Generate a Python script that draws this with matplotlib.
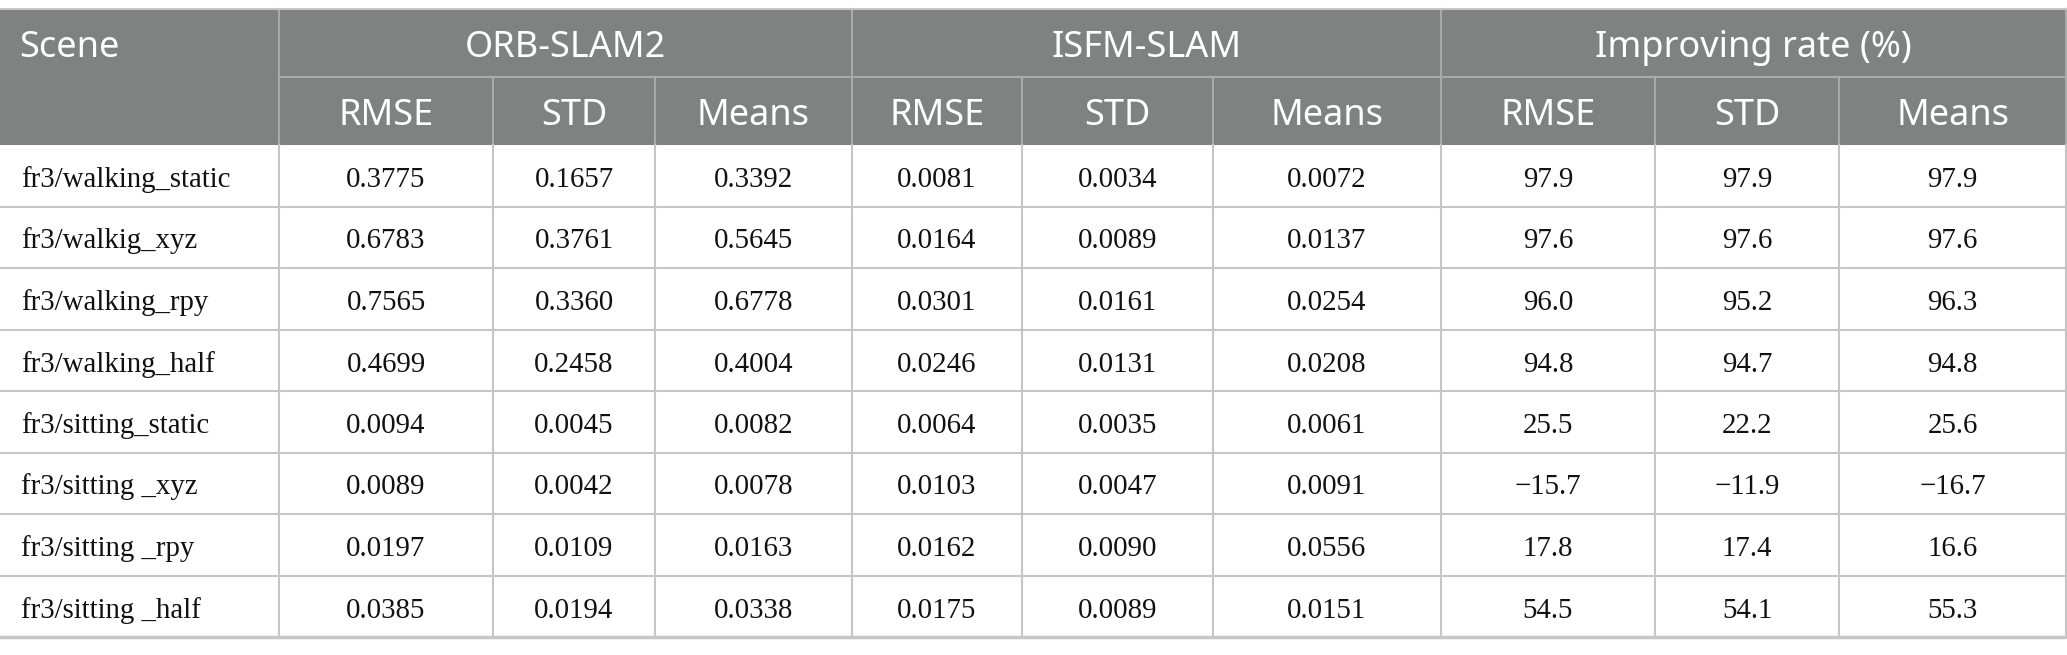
#!/usr/bin/env python3
"""Trajectory error table: ORB-SLAM2 vs ISFM-SLAM on TUM fr3 scenes."""

import matplotlib.pyplot as plt
from matplotlib.patches import Rectangle

scenes = [
    "fr3/walking_static", "fr3/walkig_xyz", "fr3/walking_rpy", "fr3/walking_half",
    "fr3/sitting_static", "fr3/sitting _xyz", "fr3/sitting _rpy", "fr3/sitting _half",
]
groups = ["ORB-SLAM2", "ISFM-SLAM", "Improving rate (%)"]
metrics = ["RMSE", "STD", "Means"]

orb_rmse = ["0.3775", "0.6783", "0.7565", "0.4699", "0.0094", "0.0089", "0.0197", "0.0385"]
orb_std = ["0.1657", "0.3761", "0.3360", "0.2458", "0.0045", "0.0042", "0.0109", "0.0194"]
orb_mean = ["0.3392", "0.5645", "0.6778", "0.4004", "0.0082", "0.0078", "0.0163", "0.0338"]
isfm_rmse = ["0.0081", "0.0164", "0.0301", "0.0246", "0.0064", "0.0103", "0.0162", "0.0175"]
isfm_std = ["0.0034", "0.0089", "0.0161", "0.0131", "0.0035", "0.0047", "0.0090", "0.0089"]
isfm_mean = ["0.0072", "0.0137", "0.0254", "0.0208", "0.0061", "0.0091", "0.0556", "0.0151"]
imp_rmse = ["97.9", "97.6", "96.0", "94.8", "25.5", "\u221215.7", "17.8", "54.5"]
imp_std = ["97.9", "97.6", "95.2", "94.7", "22.2", "\u221211.9", "17.4", "54.1"]
imp_mean = ["97.9", "97.6", "96.3", "94.8", "25.6", "\u221216.7", "16.6", "55.3"]

columns = [orb_rmse, orb_std, orb_mean, isfm_rmse, isfm_std, isfm_mean,
           imp_rmse, imp_std, imp_mean]

# layout in pixels
W, H = 2067, 655
col_edges = [0, 279, 493, 655, 852, 1022, 1213, 1441, 1655, 1839, 2066]
top, mid, head_bottom, bottom = 9, 77, 145, 637
row_h = (bottom - head_bottom) / len(scenes)

HEAD_BG = "#808181"
HEAD_LINE = "#a9aaaa"
GRID = "#c6c6c6"

fig = plt.figure(figsize=(W / 100, H / 100), dpi=100)
ax = fig.add_axes([0, 0, 1, 1])
ax.set_xlim(0, W)
ax.set_ylim(H, 0)
ax.axis("off")

head_font = dict(family=["Noto Sans", "DejaVu Sans"], fontsize=26, color="white")
body_font = dict(family=["Liberation Serif", "DejaVu Serif"], fontsize=20.8, color="#111111")

# header background
ax.add_patch(Rectangle((0, top), col_edges[-1], head_bottom - top, color=HEAD_BG, lw=0))

ax.text(19, 57, "Scene", ha="left", va="baseline", **head_font)
for g, name in enumerate(groups):
    x0, x1 = col_edges[1 + 3 * g], col_edges[4 + 3 * g]
    ax.text((x0 + x1) / 2, 57, name, ha="center", va="baseline", **head_font)
    for k, m in enumerate(metrics):
        c0, c1 = col_edges[1 + 3 * g + k], col_edges[2 + 3 * g + k]
        ax.text((c0 + c1) / 2, 125, m, ha="center", va="baseline", **head_font)

# header lines
ax.plot([col_edges[1], col_edges[-1]], [mid, mid], color=HEAD_LINE, lw=1.5)
for g in range(4):
    x = col_edges[1 + 3 * g]
    ax.plot([x, x], [top, head_bottom], color=HEAD_LINE, lw=1.5)
for i, x in enumerate(col_edges[2:-1]):
    if (i + 1) % 3 != 0:
        ax.plot([x, x], [mid, head_bottom], color=HEAD_LINE, lw=1.5)

# body
for r, scene in enumerate(scenes):
    yb = head_bottom + r * row_h + 42
    ax.text(21, yb, scene, ha="left", va="baseline", **body_font)
    for c, values in enumerate(columns):
        xc = (col_edges[c + 1] + col_edges[c + 2]) / 2
        ax.text(xc, yb, values[r], ha="center", va="baseline", **body_font)

for r in range(1, len(scenes)):
    y = head_bottom + r * row_h
    ax.plot([0, col_edges[-1]], [y, y], color=GRID, lw=1.5)
for x in col_edges[1:]:
    ax.plot([x, x], [head_bottom, bottom], color=GRID, lw=1.5)
ax.plot([0, col_edges[-1]], [top, top], color=GRID, lw=1.5)
ax.plot([0, col_edges[-1]], [bottom, bottom], color=GRID, lw=2.5)

fig.savefig("out.png", dpi=100)
plt.close(fig)
